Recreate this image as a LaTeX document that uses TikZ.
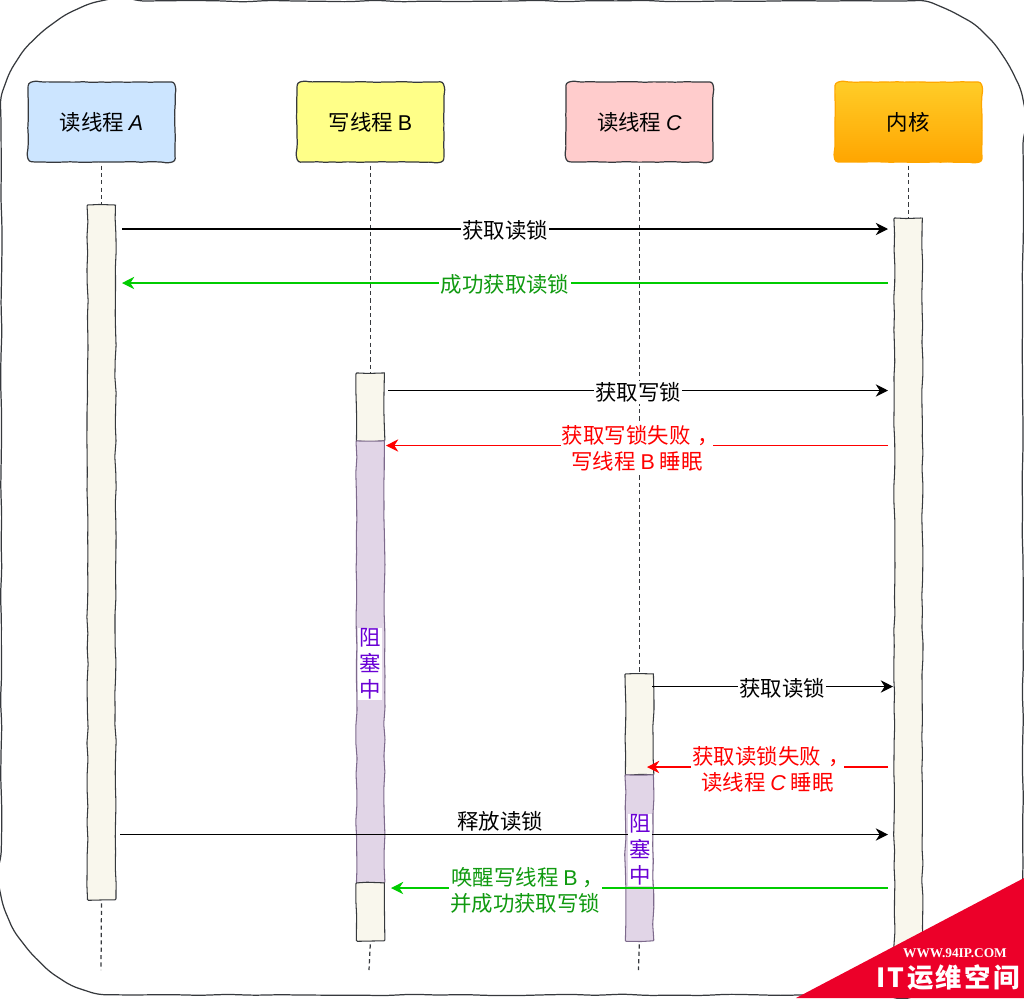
\documentclass[tikz,border=0pt]{standalone}
\usepackage{fontspec}
\setmainfont{Noto Sans CJK SC}
\newfontfamily\latinfont{Liberation Sans}
\newfontfamily\markfont{Liberation Serif}
\newfontfamily\logofont[LetterSpace=9]{Noto Sans CJK SC}
\usepackage{xcolor}
\usetikzlibrary{arrows.meta,positioning,backgrounds,decorations.pathmorphing}
\definecolor{inkgray}{HTML}{36393D}
\definecolor{barbeige}{HTML}{F9F7ED}
\definecolor{barpurple}{HTML}{E1D5E7}
\definecolor{edgepurple}{HTML}{7D6A8C}
\definecolor{textpurple}{HTML}{6A00D5}
\definecolor{okgreen}{HTML}{00CC00}
\definecolor{labelgreen}{HTML}{109A10}
\definecolor{markred}{HTML}{EC0029}
\definecolor{threadblue}{HTML}{CCE5FF}
\definecolor{threadyellow}{HTML}{FFFF88}
\definecolor{threadpink}{HTML}{FFCCCC}
\definecolor{kerneltop}{HTML}{FFCD28}
\definecolor{kernelbottom}{HTML}{FFA500}

% outline with round corners: node name, radius, options
\newcommand{\sketchbox}[3]{
  \draw[#3] (#1.north) -- ([xshift=-#2]#1.north east)
    arc[start angle=90, end angle=0, radius=#2] -- ([yshift=#2]#1.south east)
    arc[start angle=0, end angle=-90, radius=#2] -- ([xshift=#2]#1.south west)
    arc[start angle=-90, end angle=-180, radius=#2] -- ([yshift=-#2]#1.north west)
    arc[start angle=180, end angle=90, radius=#2] -- (#1.north);
}

\begin{document}
\begin{tikzpicture}[
  x=0.02cm, y=-0.02cm,
  node distance=2.44cm,
  every node/.style={font=\fontsize{12.2}{14.8}\selectfont},
  wobble/.style={decorate, decoration={random steps, segment length=4pt, amplitude=0.22pt}, rounded corners=1.5pt},
  framewobble/.style={decorate, decoration={random steps, segment length=15pt, amplitude=0.5pt}, rounded corners=4pt},
  outline/.style={draw=inkgray, line width=0.7pt},
  thread/.style={rectangle, minimum width=2.94cm, minimum height=1.6cm, align=center, outer sep=0pt},
  bar/.style={rectangle, draw=inkgray, line width=0.6pt, fill=barbeige, decorate, decoration={random steps, segment length=9pt, amplitude=0.4pt}, rounded corners=0.5pt, minimum width=0.56cm, outer sep=0pt, inner sep=0pt},
  blocked/.style={bar, draw=edgepurple, fill=barpurple},
  blockedtext/.style={fill=white, text=textpurple, inner sep=0.5pt, align=center},
  lifeline/.style={draw=inkgray, line width=0.7pt, dash pattern=on 2.4pt off 1.8pt, shorten <=2pt},
  arrow/.style={-{Stealth[length=7pt, width=7pt]}, line width=0.7pt},
  msg/.style={fill=white, inner sep=0.8pt, align=center}
]
\useasboundingbox (0,0) rectangle (1024,998);

% Outer frame
\node[minimum width=20.44cm, minimum height=19.88cm, outer sep=0pt] (frame) at (512,498) {};
\sketchbox{frame}{74pt}{outline, framewobble}

% Threads
\node[thread] (threadA) at (101.5,122) {读线程 {\latinfont\itshape A}};
\node[thread, right=of threadA] (threadB) {写线程 {\latinfont B}};
\node[thread, right=of threadB] (threadC) {读线程 {\latinfont\itshape C}};
\node[thread, right=of threadC] (kernel) {内核};

\begin{scope}[on background layer]
\sketchbox{threadA}{6pt}{outline, wobble, fill=threadblue}
\sketchbox{threadB}{6pt}{outline, wobble, fill=threadyellow}
\sketchbox{threadC}{6pt}{outline, wobble, fill=threadpink}
\sketchbox{kernel}{6pt}{draw=orange!70!yellow, line width=0.7pt, wobble, top color=kerneltop, bottom color=kernelbottom}
\end{scope}

% Activation bars
\node[bar, minimum height=13.9cm, below=0.86cm of threadA] (barA) {};
\node[bar, minimum height=1.36cm, below=4.22cm of threadB] (barB1) {};
\node[blocked, minimum height=8.84cm, below=0cm of barB1] (barB2) {};
\node[bar, minimum height=1.16cm, below=0cm of barB2] (barB3) {};
\node[bar, minimum height=2.02cm, below=10.24cm of threadC] (barC1) {};
\node[blocked, minimum height=3.32cm, below=0cm of barC1] (barC2) {};
\node[bar, minimum height=14.84cm, below=1.12cm of kernel] (barK) {};

% Lifeline ends and message ends
\coordinate (endA) at (101,970);
\coordinate (endB) at (369,970);
\coordinate (endC) at (638.5,970);
\coordinate (a1) at (122,229);  \coordinate (k1) at (888,229);
\coordinate (a2) at (122,283);  \coordinate (k2) at (888,283);
\coordinate (b1) at (388,390.5);  \coordinate (k3) at (888,390.5);
\coordinate (b2) at (386,445.5);  \coordinate (k4) at (888,445.5);
\coordinate (c1) at (652,686.5);  \coordinate (k5) at (893,686.5);
\coordinate (c2) at (647,767);  \coordinate (k6) at (888,767);
\coordinate (a3) at (120,834.5);  \coordinate (k7) at (888,834.5);
\coordinate (b3) at (391,888);  \coordinate (k8) at (888,888);

% Lifelines
\draw[lifeline] (threadA.south) -- (barA.north);
\draw[lifeline] (threadB.south) -- (barB1.north);
\draw[lifeline] (threadC.south) -- (barC1.north);
\draw[lifeline] (kernel.south) -- (barK.north);
\draw[lifeline] (barA.south) -- (endA);
\draw[lifeline] (barB3.south) -- (endB);
\draw[lifeline] (barC2.south) -- (endC);

% Messages
\draw[arrow] (a1) -- node[msg, yshift=-1pt] (getread1) {获取读锁} (k1);
\draw[arrow, okgreen] (k2) -- node[msg, text=labelgreen, yshift=-1pt] (gotread) {成功获取读锁} (a2);
\draw[arrow] (b1) -- node[msg, yshift=-1pt] (getwrite) {获取写锁} (k3);
\draw[arrow, red] (k4) -- node[msg, text=red, pos=0.5, yshift=-1.5pt] (failwrite) {获取写锁失败\kern4pt，\kern-4pt\\写线程 {\latinfont B} 睡眠} (b2);
\draw[arrow] (c1) -- node[msg, pos=0.54, yshift=-1pt] (getread2) {获取读锁} (k5);
\draw[arrow, red] (k6) -- node[msg, text=red, pos=0.5, yshift=-1.5pt] (failread) {获取读锁失败\kern4pt，\kern-4pt\\读线程 {\latinfont\itshape C} 睡眠} (c2);
\draw[arrow] (a3) -- node[above, pos=0.495, inner sep=1.5pt] (release) {释放读锁} (k7);
\draw[arrow, okgreen] (k8) -- node[msg, text=labelgreen, pos=0.73, yshift=-1.5pt] (wake) {唤醒写线程 {\latinfont B}\kern3pt，\kern-3pt\\并成功获取写锁} (b3);

% Blocked labels
\node[blockedtext] (blockB) at (370,664) {阻\\塞\\中};
\node[blockedtext] (blockC) at (640,850) {阻\\塞\\中};

% Corner mark
\fill[markred] (1024,878) -- (1024,998) -- (796,998) -- cycle;
\node[text=white, font=\markfont\bfseries\fontsize{7.6}{9}\selectfont] (markurl) at (955,953) {WWW.94IP.COM};
\node[text=white, font=\logofont\bfseries\fontsize{15}{18}\selectfont] (marklogo) at (948,978) {IT运维空间};

\end{tikzpicture}
\end{document}
